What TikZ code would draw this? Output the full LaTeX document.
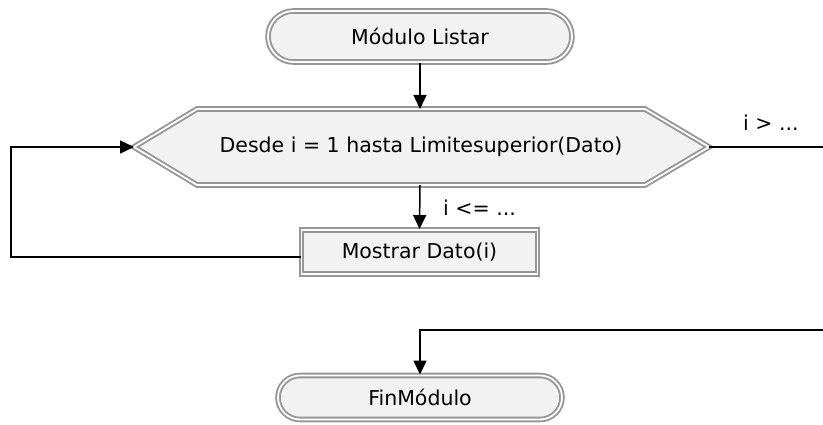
\documentclass[tikz,border=0pt]{standalone}
\usepackage{fontspec}
\setmainfont{DejaVu Sans}
\usetikzlibrary{shapes.misc,arrows.meta}
\definecolor{bordergray}{RGB}{150,150,150}
\definecolor{shapefill}{RGB}{242,242,242}
\tikzset{
  dbl/.style={draw=bordergray, line width=1.9pt, double=white, double distance=1.8pt, fill=shapefill},
  term/.style={dbl, rounded rectangle, inner sep=0pt},
  procbox/.style={dbl, rectangle, inner sep=0pt},
  txt/.style={font=\fontsize{20.5}{24}\selectfont, inner sep=0pt},
  conn/.style={black, line width=1.5pt},
  arr/.style={conn, -{Triangle[length=14pt,width=13pt]}},
}
\begin{document}
\begin{tikzpicture}[x=1pt,y=-1pt]
\useasboundingbox (0,0) rectangle (823,425);
% start terminal
\node[term, minimum width=304pt, minimum height=51pt, txt] (start) at (420,36.5) {Módulo Listar};
% loop hexagon
\coordinate (hexW) at (134,147);
\coordinate (hexE) at (709,147);
\coordinate (hexN) at (420,109);
\coordinate (hexS) at (420,185);
\path[dbl] (hexW) -- (197,109) -- (645,109) -- (hexE) -- (645,185) -- (197,185) -- cycle;
\node[txt] (hex) at (421,147) {Desde i = 1 hasta Limitesuperior(Dato)};
% process box
\node[procbox, minimum width=236pt, minimum height=44pt, txt] (box) at (419.5,252) {Mostrar Dato(i)};
% end terminal
\node[term, minimum width=284pt, minimum height=44pt, txt] (fin) at (420,397.5) {FinMódulo};
% connectors
\draw[arr] (start.south) -- (hexN);
\draw[arr] (hexS) -- (box.north);
\node[txt, anchor=west] (lblin) at (443,208) {i <= ...};
\coordinate (loopL) at (11,257);
\draw[arr] ([yshift=-5pt]box.west) -- (loopL) |- (hexW);
\coordinate (exitR) at (826,147);
\coordinate (exitB) at (826,330);
\draw[arr] (hexE) -- (exitR) -- (exitB) -| (fin.north);
\node[txt, anchor=west] (lblout) at (743,123) {i > ...};
\end{tikzpicture}
\end{document}
